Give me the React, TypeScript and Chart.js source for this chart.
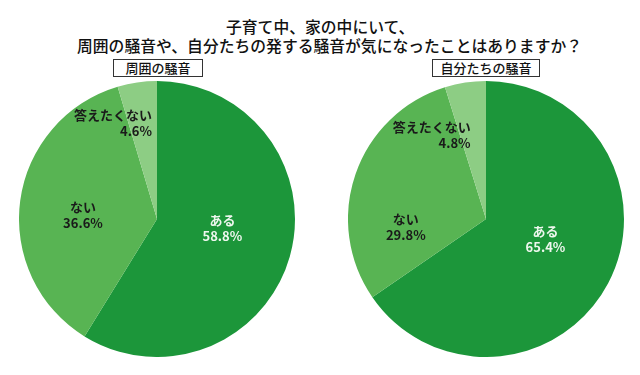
import React, { useEffect, useRef } from "react";
import { Chart, registerables } from "chart.js";

Chart.register(...registerables);

const titleLines = ["子育て中、家の中にいて、", "周囲の騒音や、自分たちの発する騒音が気になったことはありますか？"];
const categories = ["ある", "ない", "答えたくない"];
const leftTitle = "周囲の騒音";
const leftValues = [58.8, 36.6, 4.6];
const rightTitle = "自分たちの騒音";
const rightValues = [65.4, 29.8, 4.8];
const sliceColors = ["#1c963a", "#58b453", "#8dcd84"];
const labelColors = ["#eef7ee", "#1a1a1a", "#1a1a1a"];

const FONT = '"Noto Sans CJK JP", "Noto Sans", sans-serif';

type Adj = { dx: number; dy: number; align: "center" | "right" };

const labelPlugin = {
  id: "sliceLabels",
  afterDatasetsDraw(chart: any) {
    const opts = chart.options.plugins.sliceLabels;
    const adj: Adj[] = opts.adj;
    const meta = chart.getDatasetMeta(0);
    const data = chart.data.datasets[0].data as number[];
    const ctx = chart.ctx;
    ctx.save();
    ctx.font = `bold 13px ${FONT}`;
    ctx.textBaseline = "middle";
    meta.data.forEach((arc: any, i: number) => {
      const p = arc.tooltipPosition();
      const a = adj[i];
      const x = p.x + a.dx;
      const y = p.y + a.dy;
      ctx.fillStyle = labelColors[i];
      ctx.textAlign = a.align;
      ctx.fillText(chart.data.labels[i], x, y - 8);
      ctx.fillText(data[i].toFixed(1) + "%", x, y + 8);
    });
    ctx.restore();
  },
};

function Pie({ values, adj, left, top, size }: { values: number[]; adj: Adj[]; left: number; top: number; size: number }) {
  const ref = useRef<HTMLCanvasElement | null>(null);
  useEffect(() => {
    if (!ref.current) return;
    const chart = new Chart(ref.current, {
      type: "pie",
      data: {
        labels: categories,
        datasets: [
          {
            data: values,
            backgroundColor: sliceColors,
            borderWidth: 0,
            hoverOffset: 0,
            offset: 0,
          },
        ],
      },
      options: {
        responsive: false,
        maintainAspectRatio: false,
        animation: false,
        layout: { padding: 0 },
        events: [],
        plugins: {
          legend: { display: false },
          tooltip: { enabled: false },
          sliceLabels: { adj },
        } as any,
      },
      plugins: [labelPlugin],
    });
    return () => chart.destroy();
  }, []);
  return (
    <canvas
      ref={ref}
      width={size}
      height={size}
      style={{ position: "absolute", left, top, width: size, height: size }}
    />
  );
}

const leftAdj: Adj[] = [
  { dx: -1, dy: -10, align: "center" },
  { dx: -5.6, dy: 5, align: "center" },
  { dx: 5, dy: -27.7, align: "right" },
];
const rightAdj: Adj[] = [
  { dx: -1.6, dy: -11.6, align: "center" },
  { dx: -15, dy: 30.5, align: "center" },
  { dx: -5, dy: -16, align: "right" },
];

const boxStyle = (left: number, width: number): React.CSSProperties => ({
  position: "absolute",
  left,
  top: 59,
  width,
  height: 18,
  boxSizing: "border-box",
  border: "1px solid #333",
  background: "#fff",
  font: `500 13px ${FONT}`,
  lineHeight: "16px",
  textAlign: "center",
  color: "#111",
});

export default function App() {
  return (
    <div
      style={{
        position: "absolute",
        left: 0,
        top: 0,
        width: 640,
        height: 375,
        background: "#fff",
        overflow: "hidden",
        fontFamily: FONT,
      }}
    >
      <div style={{ position: "absolute", left: 226, top: 17, font: `500 15.8px ${FONT}`, lineHeight: "20px", whiteSpace: "nowrap", color: "#111" }}>
        {titleLines[0]}
      </div>
      <div style={{ position: "absolute", left: 77, top: 36, font: `500 15.8px ${FONT}`, lineHeight: "20px", whiteSpace: "nowrap", color: "#111" }}>
        {titleLines[1]}
      </div>
      <Pie values={leftValues} adj={leftAdj} left={19} top={81} size={276} />
      <Pie values={rightValues} adj={rightAdj} left={348} top={81} size={276} />
      <div style={boxStyle(113, 90)}>{leftTitle}</div>
      <div style={boxStyle(432, 108)}>{rightTitle}</div>
    </div>
  );
}
